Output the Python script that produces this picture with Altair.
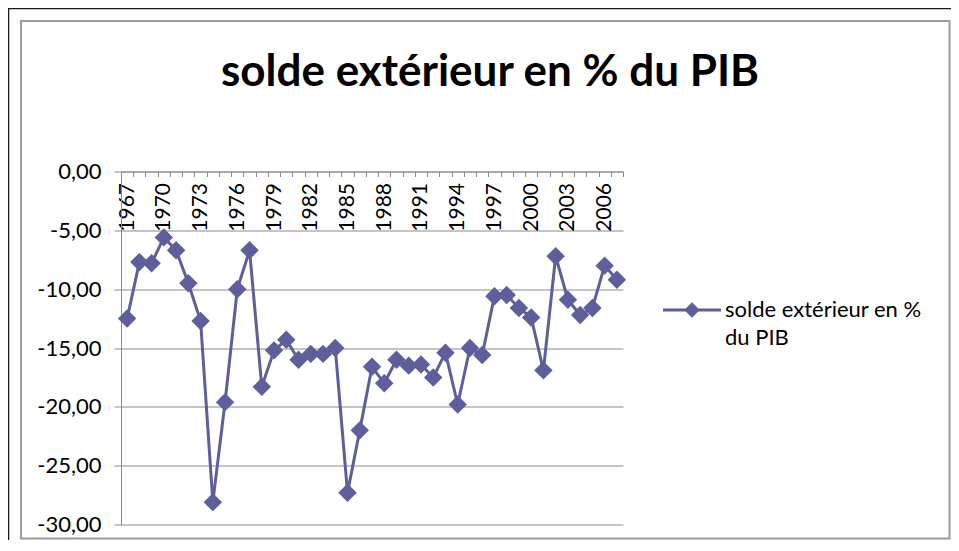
import altair as alt
import pandas as pd

years = [str(y) for y in range(1967, 2008)]
values = [-12.5, -7.7, -7.8, -5.6, -6.7, -9.5, -12.7, -28.1, -19.6, -10.0,
          -6.7, -18.3, -15.2, -14.3, -16.0, -15.5, -15.5, -15.0, -27.3, -22.0,
          -16.6, -18.0, -16.0, -16.5, -16.4, -17.5, -15.4, -19.8, -15.0, -15.6,
          -10.6, -10.5, -11.6, -12.4, -16.9, -7.2, -10.9, -12.2, -11.6, -8.0, -9.2]
shown_years = ["1967", "1970", "1973", "1976", "1979", "1982", "1985", "1988",
               "1991", "1994", "1997", "2000", "2003", "2006"]
y_ticks = [-30, -25, -20, -15, -10, -5, 0]
title_text = "solde extérieur en % du PIB"
legend_lines = ["solde extérieur en %", "du PIB"]

df = pd.DataFrame({"annee": years, "valeur": values})

W, H = 502, 353
PAD_L, PAD_T = 113, 163.5
TOTAL_W, TOTAL_H = 943, 532
COLOR = "#5E5E9A"
GRID = "#8A8A8A"
FONT = "Lato"

shown_expr = "indexof([" + ",".join("'%s'" % y for y in shown_years) + "], datum.value) >= 0 ? datum.value : ''"

x_enc = alt.X(
    "annee:O",
    sort=years,
    scale=alt.Scale(type="band", paddingInner=0, paddingOuter=0),
    axis=alt.Axis(
        orient="bottom", offset=-H, title=None, labelAngle=-90,
        labelExpr=shown_expr, tickBand="extent", tickSize=5,
        tickColor=GRID, domainColor=GRID, labelPadding=6,
        labelFont=FONT, labelFontSize=21, labelColor="#000000",
        grid=False, labelOverlap=False,
    ),
)
y_enc = alt.Y(
    "valeur:Q",
    scale=alt.Scale(domain=[-30, 0], nice=False, zero=False),
    axis=alt.Axis(
        values=y_ticks, title=None, tickSize=7, tickColor=GRID,
        domainColor=GRID, gridColor=GRID, gridWidth=1, labelPadding=13,
        labelFont=FONT, labelFontSize=22, labelColor="#000000",
        labelExpr="replace(replace(format(datum.value, '.2f'), '.', ','), '\u2212', '-')",
    ),
)

base = alt.Chart(df)
line = base.mark_line(color=COLOR, strokeWidth=3).encode(x=x_enc, y=y_enc)
pts = base.mark_point(shape="diamond", filled=True, size=340, color=COLOR, opacity=1).encode(x=x_enc, y=y_enc)

one = pd.DataFrame({"k": [0]})
frame = alt.Chart(one).mark_rect(fill=None, stroke="#9C9C9C", strokeWidth=2).encode(
    x=alt.value(21 - 8 - PAD_L), x2=alt.value(TOTAL_W - 1.5 - PAD_L),
    y=alt.value(21 - 8 - PAD_T), y2=alt.value(TOTAL_H - 1.5 - PAD_T),
)
black_top = alt.Chart(one).mark_rule(color="#1A1A1A", strokeWidth=1.5).encode(
    x=alt.value(-PAD_L), x2=alt.value(TOTAL_W - PAD_L), y=alt.value(-PAD_T + 0.5),
)
black_left = alt.Chart(one).mark_rule(color="#1A1A1A", strokeWidth=1.5).encode(
    x=alt.value(-PAD_L + 0.5), y=alt.value(-PAD_T), y2=alt.value(TOTAL_H - PAD_T),
)
title = alt.Chart(one).mark_text(font=FONT, fontSize=44, fontWeight="bold", align="center",
                                 baseline="alphabetic", color="#000000").encode(
    x=alt.value(490 - 8 - PAD_L), y=alt.value(86 - 8 - PAD_T), text=alt.value(title_text),
)
leg_line = alt.Chart(one).mark_rule(color=COLOR, strokeWidth=3).encode(
    x=alt.value(663 - 8 - PAD_L), x2=alt.value(721 - 8 - PAD_L), y=alt.value(310 - 8 - PAD_T),
)
leg_pt = alt.Chart(one).mark_point(shape="diamond", filled=True, size=240, color=COLOR, opacity=1).encode(
    x=alt.value(692 - 8 - PAD_L), y=alt.value(310 - 8 - PAD_T),
)
leg_text = alt.Chart(one).mark_text(font=FONT, fontSize=22, align="left", baseline="alphabetic",
                                    lineHeight=28, color="#000000").encode(
    x=alt.value(725 - 8 - PAD_L), y=alt.value(317 - 8 - PAD_T), text=alt.value(legend_lines),
)

chart = alt.layer(frame, black_top, black_left, title, line, pts, leg_line, leg_pt, leg_text).properties(
    width=W, height=H,
    autosize=alt.AutoSizeParams(type="none"),
    padding={"left": PAD_L, "top": PAD_T, "right": TOTAL_W - PAD_L - W, "bottom": TOTAL_H - PAD_T - H},
    background="white",
).configure_view(stroke=None)

chart.save("out.html", embed_options={"renderer": "svg", "actions": False})
